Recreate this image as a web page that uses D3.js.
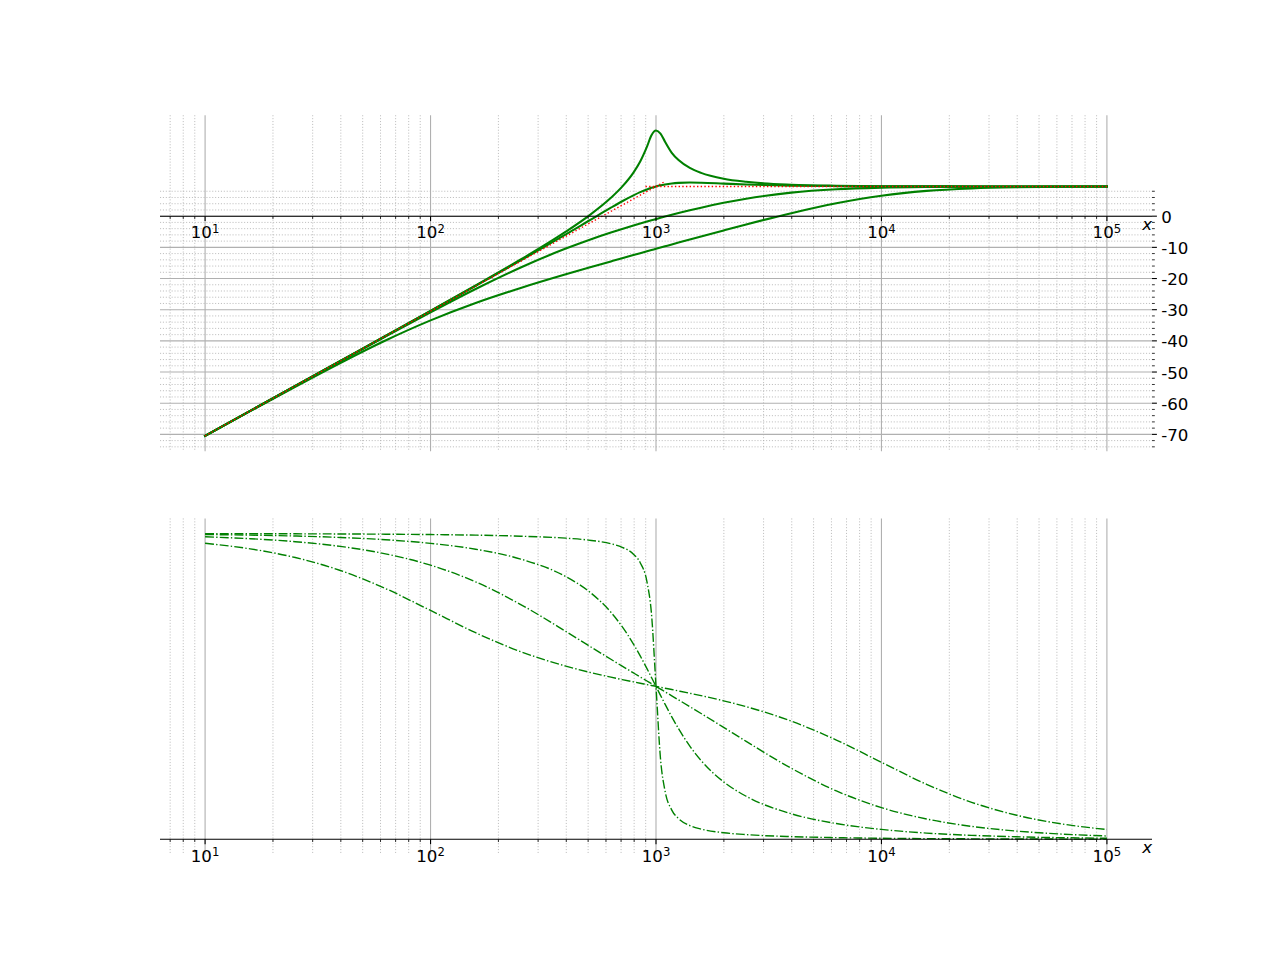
<!DOCTYPE html>
<html><head><meta charset="utf-8">
<script src="https://cdn.jsdelivr.net/npm/d3@7"></script>
<style>body{margin:0;background:#fff}svg text{font-family:"DejaVu Sans",sans-serif}</style>
</head><body><svg id="c" width="1280" height="960"></svg>
<script>
// ---- data ----
const freq = [10, 15.849, 25.119, 39.811, 63.096, 100, 158.49, 251.19, 398.11, 501.19, 630.96, 707.95, 794.33, 851.14, 912.01, 954.99, 1000, 1047.1, 1096.5, 1174.9, 1258.9, 1412.5, 1584.9, 1995.3, 2511.9, 3981.1, 6309.6, 10000, 15849, 25119, 39811, 63096, 100000];

// magnitude (dB)
const magA = [-70.46, -62.46, -54.46, -46.45, -38.43, -30.37, -22.24, -13.90, -4.97, 0.03, 5.90, 9.49, 14.00, 17.54, 22.30, 26.0, 27.5, 26.5, 23.90, 20.34, 18.00, 15.49, 13.90, 12.03, 11.03, 10.10, 9.76, 9.63, 9.57, 9.55, 9.54, 9.54, 9.54];
const magB = [-70.46, -62.46, -54.46, -46.45, -38.44, -30.42, -22.35, -14.20, -5.84, -1.55, 2.73, 4.79, 6.69, 7.71, 8.59, 9.10, 9.54, 9.90, 10.19, 10.51, 10.69, 10.79, 10.73, 10.45, 10.16, 9.80, 9.65, 9.58, 9.56, 9.55, 9.54, 9.54, 9.54];
const magC = [-70.46, -62.47, -54.48, -46.52, -38.61, -30.84, -23.36, -16.44, -10.39, -7.71, -5.26, -4.11, -3.00, -2.36, -1.73, -1.32, -0.92, -0.52, -0.13, 0.44, 1.00, 1.89, 2.74, 4.29, 5.61, 7.56, 8.64, 9.16, 9.39, 9.48, 9.52, 9.53, 9.54];
const magD = [-70.50, -62.57, -54.72, -47.09, -39.89, -33.43, -27.85, -23.03, -18.65, -16.56, -14.50, -13.48, -12.47, -11.86, -11.26, -10.86, -10.46, -10.06, -9.66, -9.06, -8.47, -7.48, -6.50, -4.56, -2.65, 0.97, 4.15, 6.57, 8.11, 8.91, 9.28, 9.43, 9.50];

// asymptotes (red dotted)
const asymRiseX = [10, 1097];
const asymRiseY = [-70.46, 11.15];
const asymFlatX = [898, 100000];
const asymFlatY = [9.54, 9.54];

// phase (degrees)
const phA = [179.94, 179.91, 179.86, 179.77, 179.64, 179.42, 179.07, 178.46, 177.29, 176.17, 174.02, 171.92, 167.85, 162.84, 151.54, 132.66, 90, 47.34, 28.46, 17.16, 12.15, 8.08, 5.98, 3.83, 2.71, 1.54, 0.93, 0.58, 0.36, 0.23, 0.14, 0.09, 0.06];
const phB = [179.43, 179.09, 178.56, 177.72, 176.38, 174.23, 170.77, 164.99, 154.68, 146.20, 133.65, 125.17, 114.92, 107.94, 100.45, 95.26, 90, 84.74, 79.55, 72.06, 65.08, 54.83, 46.35, 33.80, 25.32, 15.01, 9.23, 5.77, 3.62, 2.28, 1.44, 0.91, 0.57];
const phC = [178.09, 176.98, 175.21, 172.43, 168.08, 161.39, 151.55, 138.21, 122.38, 114.14, 105.97, 101.94, 97.94, 95.55, 93.17, 91.58, 90, 88.42, 86.83, 84.45, 82.06, 78.06, 74.03, 65.86, 57.62, 41.79, 28.45, 18.61, 11.92, 7.57, 4.79, 3.02, 1.91];
const phD = [174.29, 170.99, 165.89, 158.26, 147.65, 134.71, 121.60, 110.46, 101.94, 98.50, 95.45, 94.03, 92.66, 91.85, 91.06, 90.53, 90, 89.47, 88.94, 88.15, 87.34, 85.97, 84.55, 81.50, 78.06, 69.54, 58.40, 45.29, 32.35, 21.74, 14.11, 9.01, 5.71];

// ticks
const xTickExps = [1, 2, 3, 4, 5];
const magTicks = [0, -10, -20, -30, -40, -50, -60, -70];
const magMinorRange = [-74, 8];

// ---- drawing ----
const svg = d3.select('#c');
svg.append('rect').attr('width', 1280).attr('height', 960).attr('fill', '#fff');

const L = 160, R = 1152;
const FS = 16.67;
const GREEN = '#008000', RED = '#ff0000', GRID = '#b0b0b0';

const lx = d3.extent(freq).map(Math.log10);
const lpad = 0.05 * (lx[1] - lx[0]);
const x = d3.scaleLog().domain([Math.pow(10, lx[0] - lpad), Math.pow(10, lx[1] + lpad)]).range([L, R]);

function padded(arrs) {
  const all = arrs.flat();
  const e = d3.extent(all);
  const r = e[1] - e[0];
  return [e[0] - 0.05 * r, e[1] + 0.05 * r];
}

const xMajor = xTickExps.map(e => Math.pow(10, e));
const xMinor = [];
for (let d = 0; d <= 5; d++) for (let m = 2; m <= 9; m++) {
  const v = m * Math.pow(10, d);
  const [a, b] = x.domain();
  if (v >= a && v <= b) xMinor.push(v);
}

function panel(top, bottom, y, id, opts) {
  const g = svg.append('g');
  svg.append('clipPath').attr('id', id).append('rect')
    .attr('x', L).attr('y', top).attr('width', R - L).attr('height', bottom - top);
  g.selectAll('.vmin').data(xMinor).enter().append('line')
    .attr('x1', d => x(d)).attr('x2', d => x(d)).attr('y1', top).attr('y2', bottom)
    .attr('stroke', GRID).attr('stroke-width', 0.8).attr('stroke-dasharray', '1.1,1.8');
  g.selectAll('.vmaj').data(xMajor).enter().append('line')
    .attr('x1', d => x(d)).attr('x2', d => x(d)).attr('y1', top).attr('y2', bottom)
    .attr('stroke', GRID).attr('stroke-width', 1.1);
  if (opts.yMajor) {
    g.selectAll('.hmin').data(opts.yMinor).enter().append('line')
      .attr('x1', L).attr('x2', R).attr('y1', d => y(d)).attr('y2', d => y(d))
      .attr('stroke', GRID).attr('stroke-width', 0.8).attr('stroke-dasharray', '1.1,1.8');
    g.selectAll('.hmaj').data(opts.yMajor).enter().append('line')
      .attr('x1', L).attr('x2', R).attr('y1', d => y(d)).attr('y2', d => y(d))
      .attr('stroke', GRID).attr('stroke-width', 1.1);
  }
  return svg.append('g').attr('clip-path', `url(#${id})`);
}

function drawSeries(cg, y, xs, ys, style) {
  const line = d3.line().x(d => x(d[0])).y(d => y(d[1])).curve(style.curve || d3.curveMonotoneX);
  const p = cg.append('path').datum(xs.map((v, i) => [v, ys[i]]))
    .attr('d', line).attr('fill', 'none').attr('stroke', style.color)
    .attr('stroke-width', style.width).attr('stroke-linejoin', 'round')
    .attr('stroke-linecap', style.dash ? 'butt' : 'square');
  if (style.dash) p.attr('stroke-dasharray', style.dash);
}

function xAxis(y0) {
  const g = svg.append('g');
  g.append('line').attr('x1', L).attr('x2', R).attr('y1', y0).attr('y2', y0)
    .attr('stroke', '#000').attr('stroke-width', 1.1);
  g.selectAll('.mt').data(xMinor).enter().append('line')
    .attr('x1', d => x(d)).attr('x2', d => x(d)).attr('y1', y0).attr('y2', y0 + 2.8)
    .attr('stroke', '#000').attr('stroke-width', 0.8);
  g.selectAll('.Mt').data(xMajor).enter().append('line')
    .attr('x1', d => x(d)).attr('x2', d => x(d)).attr('y1', y0).attr('y2', y0 + 4.9)
    .attr('stroke', '#000').attr('stroke-width', 1.1);
  xTickExps.forEach((e, i) => {
    const t = g.append('text').attr('x', x(xMajor[i])).attr('y', y0 + 22.3)
      .attr('text-anchor', 'middle').attr('font-size', FS).attr('fill', '#000');
    t.append('tspan').text('10');
    t.append('tspan').attr('font-size', FS * 0.7).attr('dy', -5.8).text(String(e));
  });
  g.append('text').attr('x', 1152).attr('y', y0 + 14).attr('text-anchor', 'end')
    .attr('font-size', FS).attr('font-style', 'italic').attr('fill', '#000').text('x');
}

// ---- top panel: magnitude ----
const T1 = 115.2, B1 = 451.2;
const yMag = d3.scaleLinear().domain(padded([magA, magB, magC, magD])).range([B1, T1]);
const magMinor = d3.range(magMinorRange[0], magMinorRange[1] + 1, 2).filter(v => v % 10 !== 0);
const cg1 = panel(T1, B1, yMag, 'clip1', { yMajor: magTicks, yMinor: magMinor });
[magA, magB, magC, magD].forEach(s => drawSeries(cg1, yMag, freq, s, { color: GREEN, width: 2.08 }));
drawSeries(cg1, yMag, asymRiseX, asymRiseY, { color: RED, width: 1.39, dash: '1.39,2.29', curve: d3.curveLinear });
drawSeries(cg1, yMag, asymFlatX, asymFlatY, { color: RED, width: 1.39, dash: '1.39,2.29', curve: d3.curveLinear });
xAxis(yMag(0));
const yg = svg.append('g');
yg.selectAll('.ym').data(magMinor).enter().append('line')
  .attr('x1', R).attr('x2', R + 2.8).attr('y1', d => yMag(d)).attr('y2', d => yMag(d))
  .attr('stroke', '#000').attr('stroke-width', 0.8);
yg.selectAll('.yM').data(magTicks).enter().append('line')
  .attr('x1', R).attr('x2', R + 4.9).attr('y1', d => yMag(d)).attr('y2', d => yMag(d))
  .attr('stroke', '#000').attr('stroke-width', 1.1);
yg.selectAll('.yl').data(magTicks).enter().append('text')
  .attr('x', R + 9.2).attr('y', d => yMag(d) + 6.5)
  .attr('font-size', FS).attr('fill', '#000').text(d => String(d));

// ---- bottom panel: phase ----
const T2 = 518.4, B2 = 854.4;
const yPh = d3.scaleLinear().domain(padded([phA, phB, phC, phD])).range([B2, T2]);
const cg2 = panel(T2, B2, yPh, 'clip2', {});
[phA, phB, phC, phD].forEach(s => drawSeries(cg2, yPh, freq, s, { color: GREEN, width: 1.39, dash: '8.9,2.2,1.4,2.2' }));
xAxis(yPh(0));
</script></body></html>
